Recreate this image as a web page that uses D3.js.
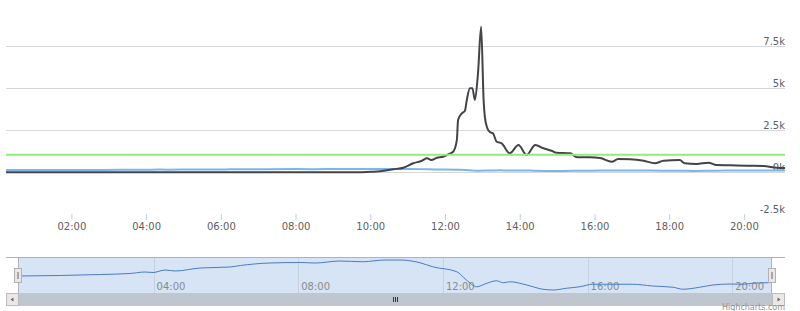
<!DOCTYPE html>
<html><head><meta charset="utf-8">
<script src="https://cdn.jsdelivr.net/npm/d3@7"></script>
<style>body{margin:0;background:#fff}svg{display:block}text{font-family:"DejaVu Sans",Verdana,sans-serif}</style>
</head><body><svg id="c" width="800" height="311"></svg>
<script>
// ---- data ----
const domainStart = "00:15", domainEnd = "21:06";
const darkTimes = ["00:15","03:00","06:00","09:00","09:40","10:00","10:16","10:37","10:53","11:09","11:23","11:31","11:38","11:47","11:57","12:05","12:13","12:19","12:21","12:27","12:32","12:35","12:40","12:44","12:48","12:53","12:58","13:02","13:04","13:08","13:12","13:17","13:23","13:31","13:44","13:58","14:11","14:25","14:38","14:51","14:59","15:21","15:32","15:53","16:09","16:28","16:38","16:57","17:19","17:37","17:51","18:17","18:25","18:44","19:03","19:16","19:38","20:05","20:31","20:53","21:06"];
const darkValues = [0,0,0,0,0,30,60,180,270,535,690,830,730,870,930,1070,1225,1920,3110,3510,3665,4300,5000,5000,4300,5900,8665,4300,3300,2620,2400,2320,1820,1726,1130,1625,1030,1625,1428,1286,1167,1130,893,893,850,630,790,780,690,535,690,730,535,494,571,434,420,393,375,274,250];
const blueTimes = ["00:15","01:25","02:32","03:21","03:46","03:59","04:19","04:36","05:17","06:07","06:24","07:13","08:03","08:28","09:09","09:47","10:24","10:49","11:22","11:43","12:23","12:39","12:56","13:13","13:29","13:40","13:51","14:19","14:46","15:03","15:25","15:47","16:09","16:42","17:15","17:48","18:22","18:38","19:06","19:28","19:56","20:18","20:34","20:56","21:06"];
const blueValues = [136,138,142,146,152,150,160,156,168,172,178,188,190,188,196,193,200,200,189,173,153,120,93,107,117,109,113,100,83,80,87,93,103,103,103,96,91,83,91,100,104,103,107,109,110];
const greenTimes = ["00:15","21:06"];
const greenValues = [1040,1040];
const yTicks = [-2500,0,2500,5000,7500];
const yTickLabels = ["-2.5k","0k","2.5k","5k","7.5k"];
const xTickLabels = ["02:00","04:00","06:00","08:00","10:00","12:00","14:00","16:00","18:00","20:00"];
const navTickLabels = ["04:00","08:00","12:00","16:00","20:00"];

const parse = d3.timeParse("%H:%M");
const fmt = d3.timeFormat("%H:%M");
const svg = d3.select("#c");

const x = d3.scaleTime().domain([parse(domainStart), parse(domainEnd)]).range([6, 785]);
const y = d3.scaleLinear().domain([-2500, 10000]).range([214.3, 4.3]);

// grid
const gridVals = yTicks.filter(v => v >= 0);
svg.append("g").selectAll("line").data(gridVals).join("line")
  .attr("x1", 6).attr("x2", 785)
  .attr("y1", d => Math.round(y(d)) + 0.5).attr("y2", d => Math.round(y(d)) + 0.5)
  .attr("stroke", "#d8d8d8").attr("stroke-width", 1);

// x axis
const xAxis = d3.axisBottom(x).tickValues(xTickLabels.map(parse)).tickFormat(fmt).tickSize(6).tickPadding(3);
const gx = svg.append("g").attr("transform", "translate(0,214)").call(xAxis);
gx.select(".domain").remove();
gx.selectAll(".tick line").attr("stroke", "#c0d0e0");
gx.selectAll(".tick text").attr("fill", "#606060").style("font-size", "10px").attr("dy", null).attr("y", 16);

// y labels (right, inside)
svg.append("g").selectAll("text").data(yTicks).join("text")
  .attr("x", 785).attr("y", d => y(d) - 1.3).attr("text-anchor", "end")
  .attr("fill", "#606060").style("font-size", "10px")
  .text((d, i) => yTickLabels[i]);

// series
const line = (xs, ys) => d3.line().x(d => xs(d.t)).y(d => ys(d.v)).curve(d3.curveMonotoneX);
const mk = (ts, vs) => ts.map((t, i) => ({t: parse(t), v: vs[i]}));
const blue = mk(blueTimes, blueValues), dark = mk(darkTimes, darkValues), green = mk(greenTimes, greenValues);
svg.append("path").datum(blue).attr("d", line(x, y)).attr("fill", "none").attr("stroke", "#7cb5ec").attr("stroke-width", 2);
svg.append("path").datum(dark).attr("d", line(x, y)).attr("fill", "none").attr("stroke", "#434348").attr("stroke-width", 2).attr("stroke-linejoin", "round");
svg.append("path").datum(green).attr("d", line(x, y)).attr("fill", "none").attr("stroke", "#90ed7d").attr("stroke-width", 2);

// navigator
const nx = d3.scaleTime().domain(x.domain()).range([18, 772]);
const ny = d3.scaleLinear().domain(d3.extent(blueValues)).range([290, 260]);
svg.append("rect").attr("x", 18).attr("y", 258).attr("width", 754).attr("height", 35).attr("fill", "#d6e4f5");
const gn = svg.append("g");
gn.selectAll("line").data(navTickLabels.map(parse)).join("line")
  .attr("x1", d => Math.round(nx(d)) + 0.5).attr("x2", d => Math.round(nx(d)) + 0.5)
  .attr("y1", 258).attr("y2", 293).attr("stroke", "#c4d2e4").attr("stroke-width", 1);
gn.selectAll("text").data(navTickLabels.map(parse)).join("text")
  .attr("x", d => nx(d) + 3).attr("y", 290).attr("fill", "#8a8a8a").style("font-size", "10px")
  .text(d => fmt(d));
svg.append("path").datum(blue).attr("d", line(nx, ny)).attr("fill", "none").attr("stroke", "#4a7cc2").attr("stroke-width", 1);
// outline
svg.append("path").attr("d", "M6,257.5H785M18.5,257.5V293M771.5,257.5V293").attr("fill", "none").attr("stroke", "#b2b1b6").attr("stroke-width", 1);
// handles
[[14, 268], [768, 268]].forEach(([hx, hy]) => {
  svg.append("rect").attr("x", hx + 0.5).attr("y", hy + 0.5).attr("width", 7).attr("height", 14).attr("fill", "#ebe7e8").attr("stroke", "#b2b1b6");
  svg.append("line").attr("x1", hx + 4).attr("x2", hx + 4).attr("y1", hy + 4).attr("y2", hy + 11).attr("stroke", "#666").attr("stroke-width", 1);
});
// scrollbar
svg.append("rect").attr("x", 18).attr("y", 293).attr("width", 754).attr("height", 13).attr("fill", "#bfc6cf");
svg.append("path").attr("d", "M393.5,297V302M395.5,297V302M397.5,297V302").attr("stroke", "#333").attr("stroke-width", 1);
[[6, "M10.5,299.5L13.5,297.5V301.5Z"], [772, "M777.5,297.5L780.5,299.5L777.5,301.5Z"]].forEach(([bx, p]) => {
  svg.append("rect").attr("x", bx + 0.5).attr("y", 293.5).attr("width", 12).attr("height", 12).attr("fill", "#ebe7e8").attr("stroke", "#bbb");
  svg.append("path").attr("d", p).attr("fill", "#666");
});
// credits
svg.append("text").attr("x", 785).attr("y", 310).attr("text-anchor", "end").attr("fill", "#909090").style("font-size", "8px").text("Highcharts.com");
</script></body></html>
